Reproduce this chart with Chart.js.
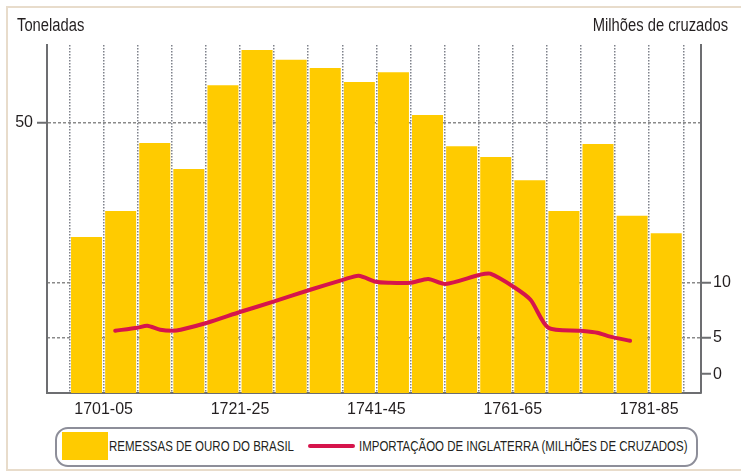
<!DOCTYPE html>
<html>
<head>
<meta charset="utf-8">
<script src="https://cdn.jsdelivr.net/npm/chart.js@4.4.1/dist/chart.umd.min.js"></script>
<style>
  body { margin: 0; background: #fff; }
  #wrap { position: relative; width: 741px; height: 473px; overflow: hidden; background: #fff; color: #231f20; }
  #frame { position: absolute; left: 6px; top: 6px; width: 745px; height: 465px; border: 2px solid #e8dccb; box-sizing: border-box; }
  canvas { position: absolute; left: 0; top: 0; }
  .titulo { position: absolute; top: 15px; font: 18px "Liberation Sans", Arial, sans-serif; white-space: nowrap; }
  #tit-esq { left: 17px; transform: scaleX(0.82); transform-origin: left center; }
  #tit-dir { right: 13px; transform: scaleX(0.82); transform-origin: right center; }
  #legenda { position: absolute; left: 55px; top: 427px; width: 643px; height: 40px; box-sizing: border-box;
             border: 2px solid #8d8e99; border-radius: 13px; background: #fff;
             font: 14px "Liberation Sans", Arial, sans-serif; white-space: nowrap; }
  #legenda > * { position: absolute; }
  .caixa { top: 3px; width: 46px; height: 28px; }
  .traco { top: 15px; width: 47px; height: 4px; border-radius: 2px; }
  .texto { top: 9px; transform: scaleX(0.82); transform-origin: left center; }
</style>
</head>
<body>
<div id="wrap">
  <div id="frame"></div>
  <canvas id="grafico" width="741" height="473"></canvas>
  <div class="titulo" id="tit-esq">Toneladas</div>
  <div class="titulo" id="tit-dir">Milhões de cruzados</div>
  <div id="legenda"></div>
</div>
<script>
// períodos de cinco anos (uma barra cada)
const periodos = ['1701-05', '1706-10', '1711-15', '1716-20', '1721-25', '1726-30', '1731-35', '1736-40', '1741-45',
                  '1746-50', '1751-55', '1756-60', '1761-65', '1766-70', '1771-75', '1776-80', '1781-85', '1786-90'];
const periodosRotulados = ['1701-05', '1721-25', '1741-45', '1761-65', '1781-85'];

// remessas de ouro do Brasil, em toneladas
const ouroToneladas = [28.9, 33.7, 46.3, 41.5, 57.0, 63.5, 61.7, 60.2, 57.6,
                       59.4, 51.5, 45.7, 43.7, 39.4, 33.7, 46.1, 32.8, 29.6];

// importação da Inglaterra, em milhões de cruzados
const importAnos = [1707.2, 1710.5, 1711.9, 1713.8, 1715.6, 1716.8, 1720.7, 1725.6, 1730.4, 1735.8, 1740.7, 1742.9, 1745.4,
                    1747.3, 1750.5, 1753.1, 1755.6, 1760.7, 1762.2, 1765.6, 1768.1, 1770.7, 1775.4, 1777.9, 1779.8, 1782.7];
const importMilhoes = [5.63, 5.90, 6.08, 5.72, 5.63, 5.72, 6.35, 7.34, 8.25, 9.33, 10.24, 10.60, 10.05,
                       9.96, 9.96, 10.31, 9.85, 10.69, 10.78, 9.60, 8.42, 5.90, 5.63, 5.45, 5.09, 4.72];

const ticksToneladas = [50];
// no original o "0" da escala da direita fica acima da linha de base
const ticksCruzados = [1.7, 5, 10];
const rotulosCruzados = ['0', '5', '10'];

const inicio = p => parseInt(p, 10);
const limites = periodos.map(p => inicio(p) - 0.5).concat(inicio(periodos[periodos.length - 1]) + 4.5);

function rotuloDoLimite(v) {
  const p = periodos.find(p => inicio(p) + 4.5 === v);
  return p && periodosRotulados.includes(p) ? p : '';
}

const fonteEixo = { family: 'Liberation Sans', size: 16 };
const cinzaEixo = '#6d6e71';

const chart = new Chart(document.getElementById('grafico'), {
  type: 'bar',
  data: {
    datasets: [
      {
        label: 'REMESSAS DE OURO DO BRASIL',
        data: periodos.map((p, i) => ({ x: inicio(p) + 2, y: ouroToneladas[i] })),
        backgroundColor: '#ffcb00',
        barPercentage: 0.91,
        categoryPercentage: 1,
        yAxisID: 'y',
        order: 2
      },
      {
        type: 'line',
        label: 'IMPORTAÇÃOO DE INGLATERRA (MILHÕES DE CRUZADOS)',
        data: importAnos.map((a, i) => ({ x: a, y: importMilhoes[i] })),
        borderColor: '#d6154c',
        borderWidth: 4,
        borderCapStyle: 'round',
        borderJoinStyle: 'round',
        pointRadius: 0,
        tension: 0.25,
        yAxisID: 'y2',
        order: 1
      }
    ]
  },
  options: {
    responsive: false,
    animation: false,
    layout: { padding: { top: 45 } },
    plugins: { legend: { display: false }, tooltip: { enabled: false } },
    scales: {
      x: {
        type: 'linear',
        offset: false,
        min: 1697.2,
        max: 1793.1,
        afterBuildTicks: s => { s.ticks = limites.map(v => ({ value: v })); },
        afterFit: s => { s.height = 80; },
        grid: { offset: false, color: '#7f828b', lineWidth: 1.5, drawTicks: false },
        border: { color: cinzaEixo, width: 2, dash: [1.5, 1.5] },
        ticks: { autoSkip: false, maxRotation: 0, padding: 7, color: '#231f20', font: fonteEixo,
                 callback: v => rotuloDoLimite(v) }
      },
      y: {
        position: 'left',
        min: 0,
        max: 64.44,
        afterBuildTicks: s => { s.ticks = ticksToneladas.map(v => ({ value: v })); },
        afterFit: s => { s.width = 47; },
        grid: { color: '#8a8a8a', lineWidth: 1.5, tickLength: 10, tickColor: cinzaEixo, tickWidth: 2 },
        border: { color: cinzaEixo, width: 2, dash: [3, 2] },
        ticks: { padding: 4, color: '#231f20', font: fonteEixo }
      },
      y2: {
        position: 'right',
        min: 0,
        max: 31.44,
        afterBuildTicks: s => { s.ticks = ticksCruzados.map(v => ({ value: v })); },
        afterFit: s => { s.width = 40; },
        grid: {
          color: c => (c.tick && c.tick.value === ticksCruzados[0]) ? 'rgba(0,0,0,0)' : '#8a8a8a',
          lineWidth: 1.5, tickLength: 10, tickColor: cinzaEixo, tickWidth: 2
        },
        border: { color: cinzaEixo, width: 2, dash: [3, 2] },
        ticks: { padding: 2, color: '#231f20', font: fonteEixo,
                 callback: (v, i) => rotulosCruzados[i] }
      }
    }
  }
});

// legenda em HTML, a partir dos datasets
const legenda = document.getElementById('legenda');
const posLegenda = [{ marca: 5, texto: 52 }, { marca: 251, texto: 302 }];
chart.data.datasets.forEach((ds, i) => {
  const marca = document.createElement('div');
  if (ds.type === 'line') {
    marca.className = 'traco';
    marca.style.background = ds.borderColor;
  } else {
    marca.className = 'caixa';
    marca.style.background = ds.backgroundColor;
  }
  marca.style.left = posLegenda[i].marca + 'px';
  const texto = document.createElement('span');
  texto.className = 'texto';
  texto.style.left = posLegenda[i].texto + 'px';
  texto.textContent = ds.label;
  legenda.appendChild(marca);
  legenda.appendChild(texto);
});
</script>
</body>
</html>
